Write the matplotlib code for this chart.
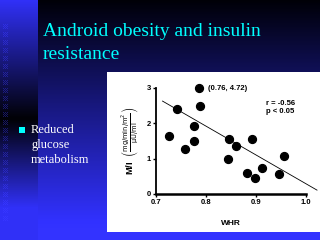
import numpy as np
import matplotlib
matplotlib.use("Agg")
import matplotlib.pyplot as plt
from matplotlib.patches import Rectangle

# ---- data ----
whr = [0.785, 0.741, 0.788, 0.725, 0.775, 0.758, 0.776, 0.845, 0.859, 0.891,
       0.844, 0.955, 0.881, 0.911, 0.897, 0.945]
mi = [3.0, 2.41, 2.49, 1.65, 1.93, 1.27, 1.50, 1.56, 1.35, 1.55,
      0.99, 1.08, 0.60, 0.73, 0.44, 0.56]
fit_x = [0.713, 1.022]
fit_y = [2.63, 0.11]
x_ticks = [0.7, 0.8, 0.9, 1.0]
x_ticklabels = ["0.7", "0.8", "0.9", "1.0"]
y_ticks = [0, 1, 2, 3]
y_ticklabels = ["0", "1", "2", "3"]
title_lines = ["Android obesity and insulin", "resistance"]
bullet_lines = ["Reduced", "glucose", "metabolism"]
outlier_label = "(0.76, 4.72)"
stats_lines = ["r = -0.56", "p < 0.05"]

W, H = 320, 240
fig = plt.figure(figsize=(W / 100, H / 100), dpi=100)

# ---- slide background ----
bg = fig.add_axes([0, 0, 1, 1])
bg.set_xlim(0, W)
bg.set_ylim(H, 0)
bg.axis("off")
img = np.zeros((H, W, 3))
yy = np.arange(H)[:, None]
t = yy / (H - 1)
blue = np.array([0.2, 0.2, 1.0])
main = np.clip(t * 1.05, 0, 1)[..., None] * blue + np.array([0, 0, 0.03])
img[:, :, :] = main * np.ones((1, W, 1))
# left strip: bright at top, dark around y=117, bright at bottom
ys = np.arange(H)
strip_f = np.where(ys < 117, 1 - ys / 117 * 0.97, np.clip((ys - 117) / 90, 0.03, 1))
strip = strip_f[:, None] * np.array([0.19, 0.19, 0.97])
img[:, :38, :] = strip[:, None, :]
# dither squares
for y0 in range(24, 220, 8):
    for dy in range(5):
        for dx in range(5):
            if (dx + dy) % 2 == 0:
                px = img[y0 + dy, 3 + dx]
                img[y0 + dy, 3 + dx] = np.clip(px * 0.7 + np.array([0.08, 0.08, 0.35]), 0, 1)
bg.imshow(img, extent=(0, W, H, 0), aspect="auto", interpolation="nearest")
bg.add_patch(Rectangle((107, 72), 213, 160, facecolor="white", edgecolor="none"))

# title
for i, line in enumerate(title_lines):
    bg.text(43, 36 + i * 23, line, color="#00ffff", fontsize=14,
            family="Liberation Serif", va="baseline", ha="left")
# bullet
bg.add_patch(Rectangle((19, 127), 6, 6, facecolor="#00ffff", edgecolor="none"))
for i, line in enumerate(bullet_lines):
    bg.text(31, 133 + i * 15, line, color="white", fontsize=9,
            family="Liberation Serif", va="baseline", ha="left")

# ---- chart ----
x0, x1, ytop, ybot = 156, 306, 88, 194
ax = fig.add_axes([x0 / W, (H - ybot) / H, (x1 - x0) / W, (ybot - ytop) / H])
ax.set_facecolor("none")
ax.set_xlim(0.7, 1.0)
ax.set_ylim(0, 3)
ax.spines["top"].set_visible(False)
ax.spines["right"].set_visible(False)
ax.spines["left"].set_linewidth(1.3)
ax.spines["bottom"].set_linewidth(1.8)
ax.set_xticks(x_ticks)
ax.set_xticklabels(x_ticklabels)
ax.set_yticks(y_ticks)
ax.set_yticklabels(y_ticklabels)
ax.tick_params(direction="out", length=2.5, width=1, pad=1, labelsize=5.5)
for lab in ax.get_xticklabels() + ax.get_yticklabels():
    lab.set_fontweight("bold")
    lab.set_family("Liberation Sans")

ax.plot(fit_x, fit_y, color="black", lw=0.6, clip_on=False)
ax.scatter(whr, mi, s=32, color="black", clip_on=False, zorder=3)
ax.text(whr[0] + 0.018, mi[0], outlier_label, fontsize=5.5, fontweight="bold",
        family="Liberation Sans", va="center", ha="left")
ax.text(0.92, 2.45, stats_lines[0] + "\n" + stats_lines[1], fontsize=5.5,
        fontweight="bold", family="Liberation Sans", va="center", ha="left",
        linespacing=1.3)
ax.set_xlabel("WHR", fontsize=6, fontweight="bold", family="Liberation Sans",
              labelpad=10)
ax.set_ylabel(r"M/I  $\left(\frac{\mathrm{mg/min/m^2}}{\mathrm{\mu U/ml}}\right)$",
              fontsize=6.8, fontweight="bold", family="Liberation Sans", labelpad=4)

fig.savefig("out.png", dpi=100)
